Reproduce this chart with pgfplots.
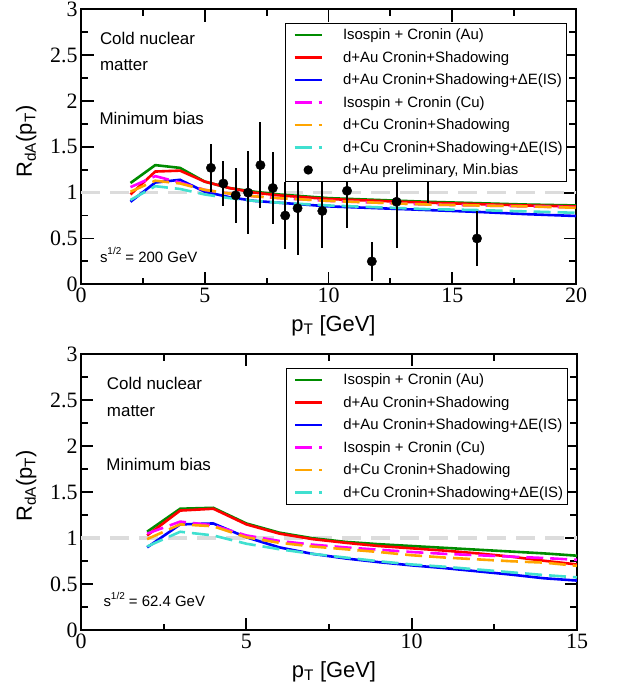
\documentclass[border=0pt]{standalone}
\usepackage{fontspec}
\setmainfont{Liberation Serif}
\setsansfont{Liberation Sans}
\usepackage{pgfplots}
\pgfplotsset{compat=1.18}

\definecolor{isoau}{RGB}{0,140,0}
\definecolor{dauCS}{RGB}{255,0,0}
\definecolor{dauCSE}{RGB}{0,0,255}
\definecolor{isocu}{RGB}{255,0,255}
\definecolor{dcuCS}{RGB}{255,165,0}
\definecolor{dcuCSE}{RGB}{64,224,208}
\definecolor{refline}{RGB}{220,220,220}

\pgfplotsset{
  longlegend/.style={legend image code/.code={\path (0bp,0bp);
      \draw[##1] (5.5bp,0bp) -- (32.5bp,0bp);}},
  dotlegend/.style={legend image code/.code={\draw[draw=none] (0bp,0bp) -- (32.5bp,0bp);
      \fill[black] (19bp,0bp) circle[radius=4.7bp];}},
  rdastyle/.style={
    scale only axis,
    anchor=south west,
    xmin=0, ymin=0, ymax=3,
    ytick={0,0.5,1,1.5,2,2.5,3},
    minor x tick num=1, minor y tick num=1,
    tick align=inside,
    major tick length=12.5bp, minor tick length=6.7bp,
    axis line style={line width=2bp},
    every tick/.style={black, line width=1.8bp},
    /pgf/number format/assume math mode=true,
    ticklabel style={font=\fontsize{22}{22}\selectfont},
    label style={font=\sffamily\fontsize{22}{22}\selectfont},
    xlabel={p\textsubscript{T} [GeV]},
    ylabel={R\textsubscript{dA}(p\textsubscript{T})},
    xlabel style={at={(axis description cs:0.51,0)}, anchor=base, yshift=-47bp},
    legend cell align=left,
    legend style={anchor=north west, draw=black, line width=1bp, fill=white,
      font=\sffamily\fontsize{15}{15}\selectfont,
      inner xsep=2bp, inner ysep=3.5bp, row sep=6.2bp, column sep=18bp},
    longlegend,
  },
  solidcurve/.style={line width=2.6bp, no marks},
  dashcurve/.style={line width=2.6bp, no marks, dash pattern=on 17bp off 7bp},
  unity/.style={refline, line width=3.5bp, dash pattern=on 19bp off 10bp, forget plot},
}

\begin{document}
\begin{tikzpicture}
\path[use as bounding box] (0bp,0bp) rectangle (618bp,692bp);

% sqrt(s) = 200 GeV
\begin{axis}[rdastyle, at={(81bp,407.7bp)}, width=495bp, height=275bp,
  xmax=20, xtick={0,5,10,15,20},
  ylabel style={at={(axis description cs:-0.099,0.519)}, anchor=base},
  legend style={at={(0.413,0.951)}}]
\addplot[unity] coordinates {(0,1) (20,1)};
\addplot[isoau, solidcurve] coordinates {(2,1.105) (3,1.30) (4,1.27) (5,1.12) (6,1.05) (7,1.01) (8,0.98) (10,0.94) (12,0.92) (14,0.90) (16,0.885) (18,0.87) (20,0.86)};
\addplot[dauCS, solidcurve] coordinates {(2,0.98) (3,1.23) (4,1.24) (5,1.12) (6,1.05) (7,1.00) (8,0.97) (10,0.93) (12,0.91) (14,0.89) (16,0.875) (18,0.86) (20,0.85)};
\addplot[dauCSE, solidcurve] coordinates {(2,0.90) (3,1.11) (4,1.14) (5,1.01) (6,0.95) (7,0.91) (8,0.89) (10,0.85) (12,0.83) (14,0.81) (16,0.79) (18,0.765) (20,0.745)};
\addplot[isocu, dashcurve] coordinates {(2,1.06) (3,1.18) (4,1.11) (5,1.03) (6,0.99) (7,0.96) (8,0.94) (10,0.91) (12,0.89) (14,0.87) (16,0.86) (18,0.85) (20,0.84)};
\addplot[dcuCS, dashcurve] coordinates {(2,1.01) (3,1.13) (4,1.10) (5,1.03) (6,0.99) (7,0.96) (8,0.94) (10,0.91) (12,0.89) (14,0.87) (16,0.86) (18,0.85) (20,0.835)};
\addplot[dcuCSE, dashcurve] coordinates {(2,0.92) (3,1.07) (4,1.04) (5,0.98) (6,0.94) (7,0.91) (8,0.89) (10,0.86) (12,0.84) (14,0.82) (16,0.81) (18,0.795) (20,0.78)};
\addplot[draw=none, mark=*, mark size=4.7bp, mark options={black, fill=black}, dotlegend,
  error bars/.cd, y dir=both, y explicit, error mark=none,
  error bar style={draw=black, line width=2bp}]
  coordinates {
  (5.25,1.27) +- (0,0.26)
  (5.75,1.10) +- (0,0.25)
  (6.25,0.97) +- (0,0.30)
  (6.75,1.00) +- (0,0.45)
  (7.25,1.30) +- (0,0.47)
  (7.75,1.05) +- (0,0.39)
  (8.25,0.75) +- (0,0.37)
  (8.75,0.83) +- (0,0.51)
  (9.75,0.80) +- (0,0.40)
  (10.75,1.02) +- (0,0.41)
  (11.75,0.25) +- (0,0.21)
  (12.75,0.90) +- (0,0.50)
  (14.0,1.35) +- (0,0.46)
  (16.0,0.50) +- (0,0.30)
  };
\legend{Isospin + Cronin (Au), d+Au Cronin+Shadowing, d+Au Cronin+Shadowing+ΔE(IS),
  Isospin + Cronin (Cu), d+Cu Cronin+Shadowing, d+Cu Cronin+Shadowing+ΔE(IS),
  {d+Au preliminary, Min.bias}}
\node[anchor=north west, align=left, inner sep=0pt, font=\sffamily\fontsize{17}{26.5}\selectfont]
  at (rel axis cs:0.038,0.919) {Cold nuclear\\matter};
\node[anchor=north west, inner sep=0pt, font=\sffamily\fontsize{17}{17}\selectfont]
  at (rel axis cs:0.037,0.626) {Minimum bias};
\node[anchor=base west, inner sep=0pt, font=\sffamily\fontsize{15}{15}\selectfont]
  at (rel axis cs:0.038,0.081) {s\raisebox{0.5em}{\fontsize{10}{10}\selectfont 1/2} = 200 GeV};
\end{axis}

% sqrt(s) = 62.4 GeV
\begin{axis}[rdastyle, at={(81bp,61.7bp)}, width=496bp, height=276.3bp,
  xmax=15, xtick={0,5,10,15},
  ylabel style={at={(axis description cs:-0.099,0.523)}, anchor=base},
  legend style={at={(0.413,0.9505)}}]
\addplot[unity] coordinates {(0,1) (15,1)};
\addplot[isoau, solidcurve] coordinates {(2,1.07) (3,1.32) (4,1.33) (5,1.16) (6,1.06) (7,1.00) (8,0.96) (9,0.935) (10,0.915) (11,0.895) (12,0.875) (13,0.855) (14,0.835) (15,0.81)};
\addplot[dauCS, solidcurve] coordinates {(2,1.03) (3,1.30) (4,1.32) (5,1.15) (6,1.05) (7,0.99) (8,0.95) (9,0.915) (10,0.89) (11,0.865) (12,0.835) (13,0.80) (14,0.755) (15,0.715)};
\addplot[dauCSE, solidcurve] coordinates {(2,0.90) (3,1.15) (4,1.16) (5,1.01) (6,0.90) (7,0.83) (8,0.78) (9,0.74) (10,0.705) (11,0.675) (12,0.64) (13,0.605) (14,0.565) (15,0.54)};
\addplot[isocu, dashcurve] coordinates {(2,1.05) (3,1.18) (4,1.14) (5,1.03) (6,0.97) (7,0.93) (8,0.90) (9,0.875) (10,0.85) (11,0.83) (12,0.815) (13,0.80) (14,0.785) (15,0.765)};
\addplot[dcuCS, dashcurve] coordinates {(2,0.99) (3,1.15) (4,1.13) (5,1.01) (6,0.95) (7,0.91) (8,0.88) (9,0.85) (10,0.815) (11,0.79) (12,0.77) (13,0.75) (14,0.735) (15,0.70)};
\addplot[dcuCSE, dashcurve] coordinates {(2,0.91) (3,1.07) (4,1.03) (5,0.94) (6,0.88) (7,0.83) (8,0.79) (9,0.75) (10,0.715) (11,0.69) (12,0.66) (13,0.63) (14,0.60) (15,0.575)};
\legend{Isospin + Cronin (Au), d+Au Cronin+Shadowing, d+Au Cronin+Shadowing+ΔE(IS),
  Isospin + Cronin (Cu), d+Cu Cronin+Shadowing, d+Cu Cronin+Shadowing+ΔE(IS)}
\node[anchor=north west, align=left, inner sep=0pt, font=\sffamily\fontsize{17}{26.5}\selectfont]
  at (rel axis cs:0.052,0.915) {Cold nuclear\\matter};
\node[anchor=north west, inner sep=0pt, font=\sffamily\fontsize{17}{17}\selectfont]
  at (rel axis cs:0.051,0.622) {Minimum bias};
\node[anchor=base west, inner sep=0pt, font=\sffamily\fontsize{15}{15}\selectfont]
  at (rel axis cs:0.045,0.085) {s\raisebox{0.5em}{\fontsize{10}{10}\selectfont 1/2} = 62.4 GeV};
\end{axis}
\end{tikzpicture}
\end{document}
